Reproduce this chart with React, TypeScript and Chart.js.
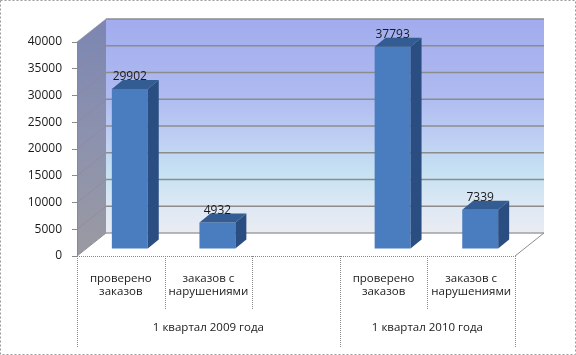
import React, { useEffect, useRef } from "react";
import { Chart, registerables } from "chart.js";

Chart.register(...registerables);

const categories: (string | string[])[] = [
  ["проверено", "заказов"],
  ["заказов с", "нарушениями"],
  "",
  ["проверено", "заказов"],
  ["заказов с", "нарушениями"],
];
const values: (number | null)[] = [29902, 4932, null, 37793, 7339];
const groupLabels = ["1 квартал 2009 года", "1 квартал 2010 года"];
const groupSpans = [3, 2];
const yMin = 0;
const yMax = 40000;
const yStep = 5000;

const FONT = "'Open Sans', 'DejaVu Sans', sans-serif";
const DX = 29;
const DY = -23;
const BX = 9;
const BY = -7;
const BDX = 11;
const BDY = -9;

const wallsPlugin = {
  id: "walls",
  beforeDraw(chart: any) {
    const ctx = chart.ctx;
    const { left, right } = chart.chartArea;
    const y = chart.scales.y;
    const y0 = y.getPixelForValue(yMin);
    const yT = y.getPixelForValue(yMax);
    ctx.save();
    // back wall
    const g = ctx.createLinearGradient(0, yT + DY, 0, y0 + DY);
    g.addColorStop(0, "#A2ACEE");
    g.addColorStop(0.35, "#AEBAF0");
    g.addColorStop(0.55, "#BECEF3");
    g.addColorStop(0.72, "#C6E2F2");
    g.addColorStop(0.88, "#DEE8F4");
    g.addColorStop(1, "#EAECF2");
    ctx.fillStyle = g;
    ctx.fillRect(left + DX, yT + DY, right - left, y0 - yT);
    // left wall
    const lg = ctx.createLinearGradient(0, yT + DY, 0, y0);
    lg.addColorStop(0, "#7C86B2");
    lg.addColorStop(0.5, "#8C92AE");
    lg.addColorStop(1, "#9A9AA2");
    ctx.fillStyle = lg;
    ctx.beginPath();
    ctx.moveTo(left, yT);
    ctx.lineTo(left + DX, yT + DY);
    ctx.lineTo(left + DX, y0 + DY);
    ctx.lineTo(left, y0);
    ctx.closePath();
    ctx.fill();
    // floor
    ctx.fillStyle = "#FFFFFF";
    ctx.beginPath();
    ctx.moveTo(left, y0);
    ctx.lineTo(left + DX, y0 + DY);
    ctx.lineTo(right + DX, y0 + DY);
    ctx.lineTo(right, y0);
    ctx.closePath();
    ctx.fill();
    // gridlines on back wall and left wall
    for (let v = yMin + yStep; v <= yMax; v += yStep) {
      const py = y.getPixelForValue(v);
      ctx.strokeStyle = "#8C8C8C";
      ctx.lineWidth = 1.5;
      ctx.beginPath();
      ctx.moveTo(left + DX, py + DY);
      ctx.lineTo(right + DX, py + DY);
      ctx.stroke();
      ctx.strokeStyle = "rgba(150,130,150,0.55)";
      ctx.lineWidth = 1;
      ctx.beginPath();
      ctx.moveTo(left, py);
      ctx.lineTo(left + DX, py + DY);
      ctx.stroke();
    }
    // floor edges
    ctx.strokeStyle = "#A0A0A0";
    ctx.lineWidth = 1.5;
    ctx.beginPath();
    ctx.moveTo(left + DX, y0 + DY);
    ctx.lineTo(right + DX, y0 + DY);
    ctx.stroke();
    ctx.strokeStyle = "#8C8C8C";
    ctx.lineWidth = 1;
    ctx.beginPath();
    ctx.moveTo(right + DX, y0 + DY);
    ctx.lineTo(right, y0);
    ctx.stroke();
    ctx.beginPath();
    ctx.moveTo(left, y0);
    ctx.lineTo(left + DX, y0 + DY);
    ctx.stroke();
    ctx.restore();
  },
  beforeDatasetsDraw(chart: any) {
    chart.ctx.save();
    chart.ctx.translate(BX, BY);
  },
  afterDatasetsDraw(chart: any) {
    const ctx = chart.ctx;
    ctx.restore();
    const meta = chart.getDatasetMeta(0);
    ctx.save();
    meta.data.forEach((el: any, i: number) => {
      const v = values[i];
      if (v == null) return;
      const xl = el.x - el.width / 2 + BX;
      const xr = el.x + el.width / 2 + BX;
      const top = el.y + BY;
      const bot = el.base + BY;
      // side face
      ctx.fillStyle = "#2A4E82";
      ctx.beginPath();
      ctx.moveTo(xr, top);
      ctx.lineTo(xr + BDX, top + BDY);
      ctx.lineTo(xr + BDX, bot + BDY);
      ctx.lineTo(xr, bot);
      ctx.closePath();
      ctx.fill();
      // top face
      ctx.fillStyle = "#335C92";
      ctx.beginPath();
      ctx.moveTo(xl, top);
      ctx.lineTo(xl + BDX, top + BDY);
      ctx.lineTo(xr + BDX, top + BDY);
      ctx.lineTo(xr, top);
      ctx.closePath();
      ctx.fill();
      // value label
      ctx.fillStyle = "#1A1A1A";
      ctx.font = `12px ${FONT}`;
      ctx.textAlign = "center";
      ctx.textBaseline = "middle";
      ctx.fillText(String(v), (xl + xr) / 2, top - 12);
    });
    ctx.restore();
  },
  afterDraw(chart: any) {
    const ctx = chart.ctx;
    const { left, right, bottom } = chart.chartArea;
    const n = categories.length;
    const w = (right - left) / n;
    ctx.save();
    ctx.strokeStyle = "#8A8A8A";
    ctx.lineWidth = 1;
    ctx.setLineDash([1, 1]);
    // front floor line
    ctx.beginPath();
    ctx.moveTo(left, bottom + 0.5);
    ctx.lineTo(right, bottom + 0.5);
    ctx.stroke();
    // group boundaries
    const groupBounds = new Set<number>([0]);
    let acc = 0;
    groupSpans.forEach((s) => {
      acc += s;
      groupBounds.add(acc);
    });
    for (let i = 0; i <= n; i++) {
      const x = Math.round(left + i * w) + 0.5;
      const endY = groupBounds.has(i) ? 347 : 310;
      ctx.beginPath();
      ctx.moveTo(x, bottom);
      ctx.lineTo(x, endY);
      ctx.stroke();
    }
    // group labels
    ctx.setLineDash([]);
    ctx.fillStyle = "#1A1A1A";
    ctx.font = `11.5px ${FONT}`;
    ctx.textAlign = "center";
    ctx.textBaseline = "middle";
    let start = 0;
    groupSpans.forEach((s, gi) => {
      const cx = left + (start + s / 2) * w;
      ctx.fillText(groupLabels[gi], cx, 328);
      start += s;
    });
    // outer border
    ctx.strokeStyle = "#9A9A9A";
    ctx.setLineDash([2, 2]);
    ctx.strokeRect(0.5, 0.5, chart.width - 1, chart.height - 1);
    ctx.restore();
  },
};

export default function App() {
  const ref = useRef<HTMLCanvasElement | null>(null);
  useEffect(() => {
    document.body.style.margin = "0";
    const chart = new Chart(ref.current as HTMLCanvasElement, {
      type: "bar",
      data: {
        labels: categories as any,
        datasets: [
          {
            data: values as any,
            backgroundColor: "#4A7DC0",
            borderWidth: 0,
            categoryPercentage: 1,
            barPercentage: 0.41,
          },
        ],
      },
      options: {
        animation: false,
        responsive: false,
        devicePixelRatio: 1,
        layout: { padding: { top: 42, right: 61, bottom: 0, left: 0 } },
        plugins: {
          legend: { display: false },
          tooltip: { enabled: false },
        },
        scales: {
          y: {
            min: yMin,
            max: yMax,
            afterFit: (s: any) => {
              s.width = 77;
            },
            ticks: {
              stepSize: yStep,
              padding: 10,
              color: "#1A1A1A",
              font: { family: FONT, size: 12 },
              callback: (v: any) => String(v),
            },
            grid: {
              display: true,
              drawOnChartArea: false,
              drawTicks: true,
              tickLength: 5,
              color: "#8A8A8A",
            },
            border: { display: true, color: "#8A8A8A" },
          },
          x: {
            afterFit: (s: any) => {
              s.height = 99;
            },
            ticks: {
              padding: 8,
              color: "#1A1A1A",
              font: { family: FONT, size: 11.5, lineHeight: 1.15 },
              maxRotation: 0,
              autoSkip: false,
            },
            grid: { display: false },
            border: { display: false },
          },
        },
      },
      plugins: [wallsPlugin],
    });
    return () => chart.destroy();
  }, []);
  return (
    <div style={{ position: "fixed", left: 0, top: 0, width: 576, height: 355 }}>
      <canvas ref={ref} width={576} height={355} />
    </div>
  );
}
